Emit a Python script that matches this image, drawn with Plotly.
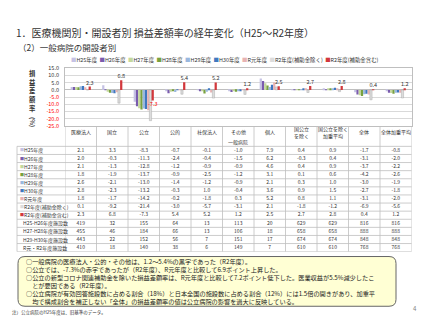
import plotly.graph_objects as go

W, H = 427, 320

categories = ["医療法人", "国立", "公立", "公的", "社保法人", "その他", "個人",
              "国公立を除く", "国公立を除く加重平均", "全体", "全体加重平均"]
category_labels = ["医療法人", "国立", "公立", "公的", "社保法人", "その他", "個人",
                   "国公立<br>を除く", "国公立を除く<br>加重平均", "全体", "全体加重平均"]
category_sub = {"その他": "一般病院"}

series_names = ["H25年度", "H26年度", "H27年度", "H28年度", "H29年度", "H30年度",
                "R元年度", "R2年度(補助金除く)", "R2年度(補助金含む)"]
h25 = [2.1, 3.3, -8.3, -0.7, -0.1, -1.0, 7.9, 0.4, 0.9, -1.7, -0.8]
h26 = [2.0, -0.3, -11.3, -2.4, -0.4, -1.5, 6.2, -0.3, 0.4, -3.1, -2.0]
h27 = [2.1, -1.3, -12.8, -1.2, -0.9, -0.9, 4.6, 0.4, 0.9, -3.7, -2.2]
h28 = [1.8, -1.9, -13.7, -0.9, -2.5, -1.2, 3.1, 0.1, 0.6, -4.2, -2.6]
h29 = [2.6, -2.1, -13.0, -1.4, -1.2, -0.9, 2.1, 0.3, 1.0, -3.0, -1.9]
h30 = [2.8, -2.3, -13.2, -0.3, 1.0, -0.4, 3.6, 0.9, 1.5, -2.7, -1.8]
r1 = [1.8, -1.7, -14.2, -0.2, -1.8, 0.3, 5.2, 0.8, 1.1, -3.1, -2.0]
r2_excl = [0.1, -9.2, -21.4, -3.0, -5.7, -3.1, 2.1, -1.8, -1.2, -6.9, -5.6]
r2_incl = [2.3, 6.8, -7.3, 5.4, 5.2, 1.2, 2.5, 2.7, 2.8, 0.4, 1.2]
series_values = [h25, h26, h27, h28, h29, h30, r1, r2_excl, r2_incl]
series_colors = ["#c5c2e4", "#7a5cae", "#c4d89c", "#79a13f", "#9ab8de",
                 "#3f78c0", "#e8b3b3", "#dcdcdc", "#d2383c"]

facility_labels = ["H25-H26年度施設数", "H27-H28年度施設数", "H29-H30年度施設数", "R元・R2年度施設数"]
fac_h25_h26 = [419, 32, 155, 64, 13, 113, 20, 629, 629, 816, 816]
fac_h27_h28 = [455, 46, 184, 66, 13, 106, 18, 658, 658, 888, 888]
fac_h29_h30 = [443, 22, 152, 56, 7, 151, 17, 674, 674, 848, 848]
fac_r1_r2 = [410, 18, 140, 38, 6, 149, 7, 610, 610, 768, 768]
facility_values = [fac_h25_h26, fac_h27_h28, fac_h29_h30, fac_r1_r2]

y_ticks = [15, 10, 5, 0, -5, -10, -15, -20, -25]
y_title_chars = ["損", "益", "差", "額", "率"]
y_title_unit = "(%)"

FONT = "Noto Sans CJK JP"
GRID = "#bfbfbf"


def px(x):
    return x / W


def py(y):
    return 1 - y / H


# geometry (pixels)
PL, PR = 65, 411.5          # plot / table data columns
TL = 17                     # table left (row label column)
PT, PB = 66, 125            # plot top / bottom
HB = 146                    # header bottom
TB = 254                    # table bottom

row_labels = series_names + facility_labels
n_rows = len(row_labels)
row_h = (TB - HB) / n_rows
hdr_units = (HB - PB) / row_h

fig = go.Figure()

for name, vals, col in zip(series_names, series_values, series_colors):
    kw = {}
    if name == series_names[-1]:
        kw = dict(text=[f"{v:.1f}" for v in vals], textposition="outside",
                  constraintext="none", textangle=0, cliponaxis=False,
                  textfont=dict(size=5.5, family=FONT,
                                color=["#ff0000" if v < 0 else "#333333" for v in vals]))
    line = dict(color="#a0a0a0", width=0.4) if name == series_names[-2] else dict(width=0)
    fig.add_trace(go.Bar(x=categories, y=vals, name=name, marker=dict(color=col, line=line),
                         xaxis="x", yaxis="y", showlegend=False, **kw))

# table values
tx, ty, tt = [], [], []
for lab, vals in zip(series_names, series_values):
    for c, v in zip(categories, vals):
        tx.append(c); ty.append(lab); tt.append(f"{v:.1f}")
for lab, vals in zip(facility_labels, facility_values):
    for c, v in zip(categories, vals):
        tx.append(c); ty.append(lab); tt.append(f"{v}")
fig.add_trace(go.Scatter(x=tx, y=ty, text=tt, mode="text", xaxis="x2", yaxis="y2",
                         textfont=dict(size=5, family=FONT, color="#333333"),
                         showlegend=False, hoverinfo="skip"))

fig.update_layout(
    width=W, height=H, margin=dict(l=0, r=0, t=0, b=0),
    paper_bgcolor="white", plot_bgcolor="white",
    barmode="group", bargap=0.36, bargroupgap=0,
    font=dict(family=FONT, color="#333333"),
    xaxis=dict(domain=[px(PL), px(PR)], anchor="y", type="category",
               categoryorder="array", categoryarray=categories, range=[-0.5, len(categories) - 0.5],
               showticklabels=False, ticks="", showgrid=False, showline=True, mirror=True,
               linecolor=GRID, linewidth=0.8, fixedrange=True),
    yaxis=dict(domain=[py(PB), py(PT)], anchor="x", range=[-25, 15],
               tickvals=y_ticks,
               ticktext=[(f"<span style='color:#ff0000'>{v:.1f}</span>" if v < 0 else f"{v:.1f}") for v in y_ticks],
               tickfont=dict(size=5.5, family=FONT, color="#333333"), ticks="", ticklabelstandoff=4,
               showgrid=True, gridcolor="#d9d9d9", gridwidth=0.7, zeroline=True, zerolinecolor="#bfbfbf",
               zerolinewidth=0.8, showline=True, mirror=True, linecolor=GRID, linewidth=0.8),
    xaxis2=dict(domain=[px(PL), px(PR)], anchor="y2", type="category",
                categoryorder="array", categoryarray=categories, range=[-0.5, len(categories) - 0.5],
                visible=False),
    yaxis2=dict(domain=[py(TB), py(PB)], anchor="x2", type="category",
                categoryorder="array", categoryarray=row_labels,
                range=[n_rows - 0.5, -0.5 - hdr_units], visible=False),
)

shapes = []
for i in range(len(categories) + 1):
    shapes.append(dict(type="line", xref="x2", yref="y2", x0=i - 0.5, x1=i - 0.5,
                       y0=n_rows - 0.5, y1=-0.5 - hdr_units, line=dict(color=GRID, width=0.8)))
for j in range(n_rows + 1):
    shapes.append(dict(type="line", xref="paper", yref="y2", x0=px(TL), x1=px(PR),
                       y0=j - 0.5, y1=j - 0.5, line=dict(color=GRID, width=0.8)))
shapes.append(dict(type="line", xref="paper", yref="y2", x0=px(TL), x1=px(TL),
                   y0=-0.5, y1=n_rows - 0.5, line=dict(color=GRID, width=0.8)))

# rounded text box
bx0, bx1, by0, by1, r = 18, 396, 259, 310, 7
pts = (f"M {px(bx0 + r)},{py(by0)} L {px(bx1 - r)},{py(by0)} Q {px(bx1)},{py(by0)} {px(bx1)},{py(by0 + r)} "
       f"L {px(bx1)},{py(by1 - r)} Q {px(bx1)},{py(by1)} {px(bx1 - r)},{py(by1)} "
       f"L {px(bx0 + r)},{py(by1)} Q {px(bx0)},{py(by1)} {px(bx0)},{py(by1 - r)} "
       f"L {px(bx0)},{py(by0 + r)} Q {px(bx0)},{py(by0)} {px(bx0 + r)},{py(by0)} Z")
shapes.append(dict(type="path", xref="paper", yref="paper", path=pts,
                   fillcolor="#ffffd4", line=dict(color="#666666", width=1)))
fig.update_layout(shapes=shapes)

ann = []
ann.append(dict(text="1．医療機関別・開設者別 損益差額率の経年変化（H25～R2年度）", x=px(14), y=py(29),
                xref="paper", yref="paper", xanchor="left", yanchor="middle", showarrow=False,
                font=dict(size=10, family=FONT, color="#333333")))
ann.append(dict(text="（2）一般病院の開設者別", x=px(16), y=py(44),
                xref="paper", yref="paper", xanchor="left", yanchor="middle", showarrow=False,
                font=dict(size=8.5, family=FONT, color="#333333")))
# legend
leg = "  ".join(f"<span style='color:{c}'>■</span>{n}" for n, c in zip(series_names, series_colors))
ann.append(dict(text=leg, x=px(69), y=py(57), xref="paper", yref="paper", xanchor="left",
                yanchor="middle", showarrow=False, font=dict(size=5.4, family=FONT, color="#333333")))
# y axis title: stacked characters + rotated unit
for k, ch in enumerate(y_title_chars):
    ann.append(dict(text=f"<b>{ch}</b>", x=px(32), y=py(71 + 9 * k), xref="paper", yref="paper",
                    xanchor="center", yanchor="middle", showarrow=False, borderpad=0,
                    font=dict(size=6.3, family=FONT, color="#333333")))
ann.append(dict(text=f"<b>{y_title_unit}</b>", x=px(32), y=py(121), borderpad=0,
                xref="paper", yref="paper", xanchor="center", yanchor="middle", showarrow=False,
                textangle=90, font=dict(size=6, family=FONT, color="#333333")))
# category header
for c, lab in zip(categories, category_labels):
    ann.append(dict(text=lab, x=c, y=py(131.5), xref="x2", yref="paper", showarrow=False,
                    xanchor="center", yanchor="middle", font=dict(size=5, family=FONT, color="#333333")))
    if c in category_sub:
        ann.append(dict(text=category_sub[c], x=c, y=py(142), xref="x2", yref="paper", showarrow=False,
                        xanchor="center", yanchor="middle", font=dict(size=5, family=FONT, color="#333333")))
# row labels
for lab in row_labels:
    if lab in series_names:
        col = series_colors[series_names.index(lab)]
        txt = f"<span style='color:{col};font-size:4px'>■</span>{lab}"
        xx = 18
    else:
        txt = lab
        xx = 21
    ann.append(dict(text=txt, x=px(xx), y=lab, xref="paper", yref="y2", xanchor="left",
                    yanchor="middle", showarrow=False, font=dict(size=5, family=FONT, color="#333333")))
notes = [
    "○一般病院の医療法人・公的・その他は、1.2～5.4%の黒字であった（R2年度）。",
    "○公立では、-7.3%の赤字であったが（R2年度）、R元年度と比較して6.9ポイント上昇した。",
    "○公立の新型コロナ関連補助金を除いた損益差額率は、R元年度と比較して7.2ポイント低下した。医業収益が5.5%減少したこ",
    "　とが要因である（R2年度）。",
    "○公立病院が有効回答施設数に占める割合（18%）と日本全国の施設数に占める割合（12%）には1.5倍の開きがあり、加重平",
    "　均で構成割合を補正しない「全体」の損益差額率の値は公立病院の影響を過大に反映している。",
]
ann.append(dict(text="<br>".join(notes), x=px(24), y=py(284.5), xref="paper", yref="paper",
                xanchor="left", yanchor="middle", align="left", showarrow=False,
                font=dict(size=6.2, family=FONT, color="#222222")))
ann.append(dict(text="注）公立病院のH25年度は、旧基準のデータ。", x=px(10), y=py(316), xref="paper", yref="paper",
                xanchor="left", yanchor="middle", showarrow=False,
                font=dict(size=4.5, family=FONT, color="#333333")))
ann.append(dict(text="4", x=px(415), y=py(312), xref="paper", yref="paper",
                xanchor="center", yanchor="middle", showarrow=False,
                font=dict(size=6, family=FONT, color="#808080")))
fig.update_layout(annotations=ann)

fig.write_html("out.html")
